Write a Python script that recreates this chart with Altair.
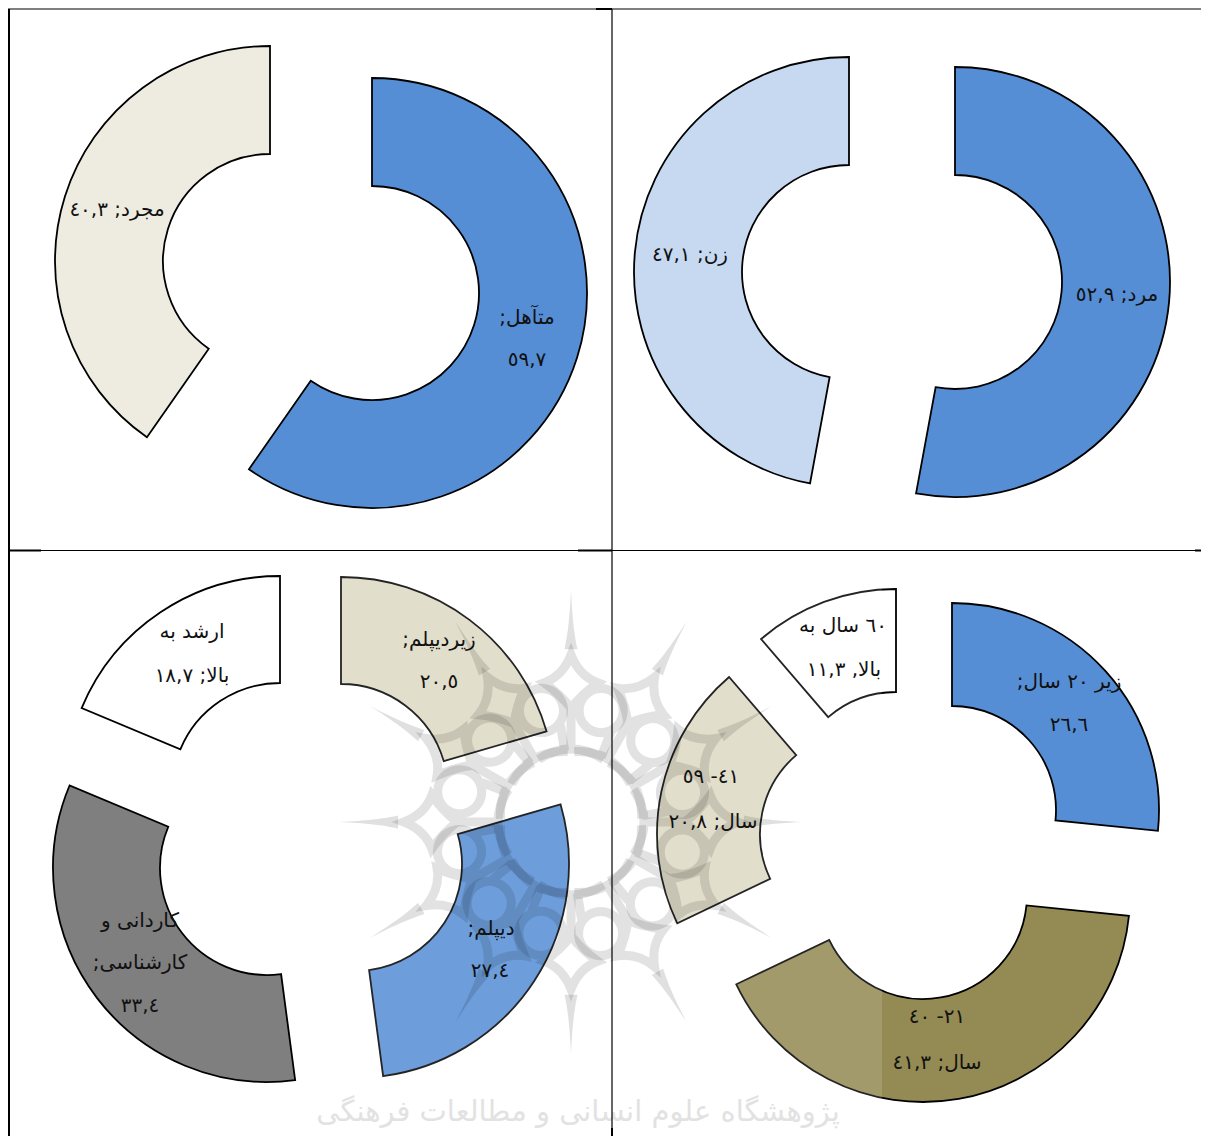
import math
import altair as alt
import pandas as pd

# ---- chart values -------------------------------------------------------
panels = ["marital", "marital", "gender", "gender",
          "education", "education", "education", "education",
          "age", "age", "age", "age"]
categories = ["متآهل", "مجرد", "مرد", "زن",
              "زیردیپلم", "دیپلم", "کاردانی و کارشناسی", "ارشد به بالا",
              "زیر ۲۰ سال", "۲۱-۴۰ سال", "۴۱-۵۹ سال", "۶۰ سال به بالا"]
values = [59.7, 40.3, 52.9, 47.1,
          20.5, 27.4, 33.4, 18.7,
          26.6, 41.3, 20.8, 11.3]

# ---- styles and layout of the exploded slices ---------------------------
fills = ["#558ed5", "#eeece1", "#558ed5", "#c6d9f1",
         "#ddd9c3", "#558ed5", "#7f7f7f", "#ffffff",
         "#558ed5", "#948a54", "#ddd9c3", "#ffffff"]
centre_x = [372, 270, 955, 849, 341, 355, 267, 280, 952, 923, 864, 896]
centre_y = [293, 261, 282, 272, 791, 864, 868, 791, 810, 895, 834, 796]
outer_r = [215, 215, 215, 215, 214, 214, 214, 215, 207, 207, 207, 207]
inner_r = [107, 107, 107, 107, 107, 107, 107, 108, 104, 104, 104, 104]

label_lines = ["متآهل;\u200f", "٥٩,٧", "مجرد; ٤٠,٣", "مرد; ٥٢,٩", "زن; ٤٧,١",
               "زیردیپلم;\u200f", "٢٠,٥", "دیپلم;\u200f", "٢٧,٤",
               "کاردانی و", "کارشناسی;\u200f", "٣٣,٤", "ارشد به", "بالا; ١٨,٧",
               "زیر ٢٠ سال;\u200f", "٢٦,٦", "٢١- ٤٠", "سال; ٤١,٣",
               "٤١- ٥٩", "سال; ٢٠,٨", "٦٠ سال به", "بالا, ١١,٣"]
label_x = [527, 527, 117, 1117, 690,
           439, 439, 491, 490,
           140, 140, 140, 192, 192,
           1069, 1069, 937, 937,
           711, 713, 843, 844]
label_y = [318, 360, 210, 295, 255,
           640, 682, 929, 971,
           921, 963, 1006, 632, 676,
           682, 725, 1017, 1063,
           777, 822, 626, 670]

# table borders
rule_x1 = [8, 9, 612, 8, 596, 8, 578, 1195, 612]
rule_x2 = [1201, 9, 612, 1201, 612, 41, 612, 1201, 612]
rule_y1 = [9, 9, 9, 550.5, 9, 550.5, 550.5, 550.5, 1128]
rule_y2 = [9, 1136, 1136, 550.5, 9, 550.5, 550.5, 550.5, 1136]
rule_w = [1.2, 2, 1.2, 1.2, 2, 2, 2, 2, 2]

# watermark emblem
emblem_angles = [0, 30, 60, 90, 120, 150, 180, 210, 240, 270, 300, 330]
emblem_x = 571
emblem_y = 822
veil_x = [320]
veil_x2 = [882]
veil_y = [575]
veil_y2 = [1136]
watermark_text = ["پژوهشگاه علوم انسانی و مطالعات فرهنگی"]
watermark_x = [578]
watermark_y = [1112]

W, H = 1193, 1128

starts, ends, prev_panel, running = [], [], None, 0.0
for p, v in zip(panels, values):
    if p != prev_panel:
        running, prev_panel = 0.0, p
    starts.append(running)
    running += v
    ends.append(running)

slices = pd.DataFrame({
    "category": categories, "value": values, "start": starts, "end": ends,
    "fill": fills, "cx": centre_x, "cy": centre_y, "r": outer_r, "r0": inner_r,
})
labels = pd.DataFrame({"t": label_lines, "x": label_x, "y": label_y})
rules = pd.DataFrame({"x": rule_x1, "x2": rule_x2, "y": rule_y1, "y2": rule_y2, "w": rule_w})
emblem = pd.DataFrame({"a": emblem_angles, "x": emblem_x, "y": emblem_y})
veil = pd.DataFrame({"x": veil_x, "x2": veil_x2, "y": veil_y, "y2": veil_y2})
wm = pd.DataFrame({"t": watermark_text, "x": watermark_x, "y": watermark_y})

sx = alt.Scale(domain=[8, 8 + W], range=[0, W])
sy = alt.Scale(domain=[8, 8 + H], range=[0, H])
X = lambda f="x": alt.X(f"{f}:Q", scale=sx, axis=None)
Y = lambda f="y": alt.Y(f"{f}:Q", scale=sy, axis=None)

arcs = alt.Chart(slices).mark_arc(stroke="#000000", strokeWidth=1.8).encode(
    x=X("cx"), y=Y("cy"),
    theta=alt.Theta("start:Q", stack=None,
                    scale=alt.Scale(domain=[0, 100], range=[0, 2 * math.pi])),
    theta2=alt.Theta2("end:Q"),
    radius=alt.Radius("r:Q", scale=None),
    radius2=alt.Radius2("r0:Q"),
    fill=alt.Fill("fill:N", scale=None),
)

veil_layer = alt.Chart(veil).mark_rect(color="#ffffff", opacity=0.14).encode(
    x=X(), x2="x2:Q", y=Y(), y2="y2:Q")

# one motif, turned round the emblem's centre; 1 unit = 232 px
spike = "M0,-1 C0.006,-0.88 0.012,-0.82 0.028,-0.745 L-0.028,-0.745 C-0.012,-0.82 -0.006,-0.88 0,-1 Z"
motif = ("M0,-0.72 Q0.035,-0.63 0.115,-0.6 Q0.045,-0.55 0,-0.49 "
         "Q-0.045,-0.55 -0.115,-0.6 Q-0.035,-0.63 0,-0.72 Z "
         "M0,-0.49 L0,-0.33 "
         "M0.225,-0.48 a0.095,0.095 0 1,0 -0.19,0 a0.095,0.095 0 1,0 0.19,0 "
         "M-0.14,-0.27 Q0,-0.36 0.14,-0.27 "
         "M0.17,-0.385 L0.13,-0.28")
ANG = alt.Angle("a:Q", scale=None)
spikes = alt.Chart(emblem).mark_point(
    shape=spike, size=(2 * 232) ** 2, filled=True, color="#000000", opacity=0.12, strokeWidth=0
).encode(x=X(), y=Y(), angle=ANG)
motifs = alt.Chart(emblem).mark_point(
    shape=motif, size=(2 * 232) ** 2, filled=False, color="#000000", opacity=0.11, strokeWidth=9
).encode(x=X(), y=Y(), angle=ANG)

wm_layer = alt.Chart(wm).mark_text(
    font="DejaVu Sans", fontSize=29, color="#e2e2e2", align="center", baseline="middle"
).encode(x=X(), y=Y(), text="t:N")

lines = alt.Chart(rules).mark_rule(color="#000000").encode(
    x=X(), x2="x2:Q", y=Y(), y2="y2:Q", strokeWidth=alt.StrokeWidth("w:Q", scale=None))

texts = alt.Chart(labels).mark_text(
    font="DejaVu Sans", fontSize=20, color="#111111", align="center", baseline="middle"
).encode(x=X(), y=Y(), text="t:N")

chart = alt.layer(
    arcs, veil_layer, spikes, motifs, wm_layer, lines, texts
).properties(
    width=W, height=H, padding=0, autosize=alt.AutoSizeParams(type="none")
).configure_view(stroke=None)

chart.save("out.html", embed_options={"renderer": "svg", "actions": False})
